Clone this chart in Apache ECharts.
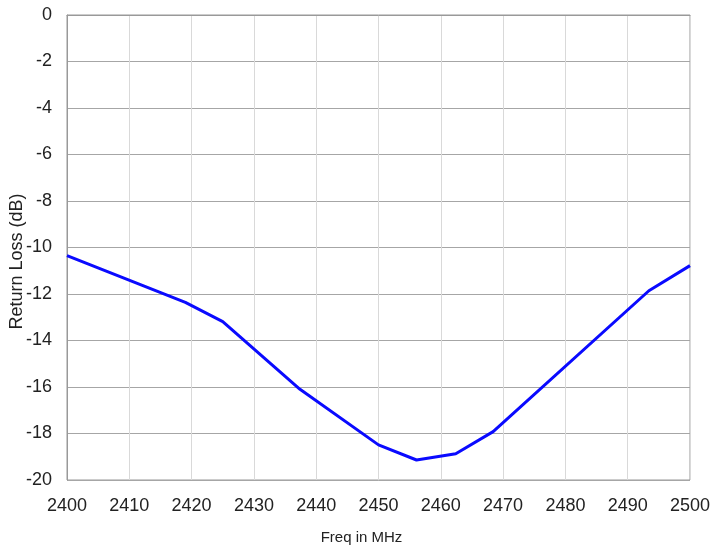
<!DOCTYPE html>
<html>
<head>
<meta charset="utf-8">
<script src="https://cdn.jsdelivr.net/npm/echarts@6/dist/echarts.min.js"></script>
<style>html,body{margin:0;padding:0;background:#fff}#c{width:711px;height:550px}</style>
</head>
<body>
<div id="c"></div>
<script>
const freqs = [2400, 2419, 2425, 2437.4, 2450, 2456.1, 2462.4, 2468.4, 2493.4, 2500];
const returnLoss = [-10.35, -12.36, -13.19, -16.1, -18.49, -19.14, -18.87, -17.92, -11.86, -10.78];
const xName = 'Freq in MHz';
const yName = 'Return Loss (dB)';

const font = "'Liberation Sans', Arial, sans-serif";
const chart = echarts.init(document.getElementById('c'));
chart.setOption({
  animation: false,
  backgroundColor: '#fff',
  grid: { left: 67, right: 21, top: 15, bottom: 70, show: true, borderColor: '#999', borderWidth: 1, containLabel: false, outerBoundsMode: 'none' },
  xAxis: {
    type: 'value', min: 2400, max: 2500, interval: 10,
    name: xName, nameLocation: 'middle', nameGap: 50, nameMoveOverlap: false,
    nameTextStyle: { fontFamily: font, fontSize: 15, color: '#222', padding: [0, 34, 0, 0] },
    axisLine: { show: true, lineStyle: { color: '#999', width: 1 } },
    axisTick: { show: false },
    axisLabel: { fontFamily: font, fontSize: 18, color: '#222', margin: 17, formatter: v => String(v) },
    splitLine: { show: true, lineStyle: { color: '#d9d9d9', width: 1 } }
  },
  yAxis: {
    type: 'value', min: -20, max: 0, interval: 2,
    name: yName, nameLocation: 'middle', nameGap: 41, nameMoveOverlap: false,
    nameTextStyle: { fontFamily: font, fontSize: 18, color: '#222', padding: [0, 28, 0, 0] },
    axisLine: { show: true, lineStyle: { color: '#999', width: 1 } },
    axisTick: { show: false },
    axisLabel: { fontFamily: font, fontSize: 18, color: '#222', margin: 15, formatter: v => String(v) },
    splitLine: { show: true, lineStyle: { color: '#a6a6a6', width: 1 } }
  },
  series: [{
    type: 'line',
    data: freqs.map((f, i) => [f, returnLoss[i]]),
    symbol: 'none',
    lineStyle: { color: '#0a0aff', width: 3 },
    z: 5
  }]
});
</script>
</body>
</html>
